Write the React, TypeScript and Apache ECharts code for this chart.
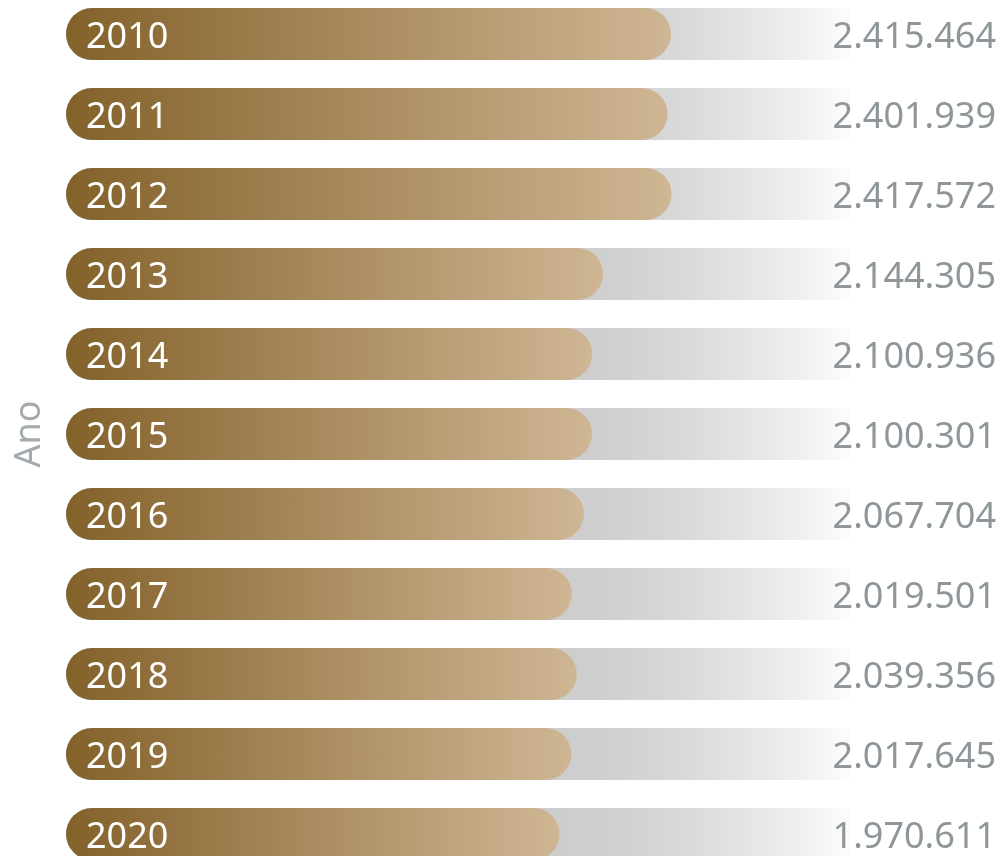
import React, { useEffect, useRef } from "react";
import * as echarts from "echarts";

const years = ["2010", "2011", "2012", "2013", "2014", "2015", "2016", "2017", "2018", "2019", "2020"];
const values = [2415464, 2401939, 2417572, 2144305, 2100936, 2100301, 2067704, 2019501, 2039356, 2017645, 1970611];
const axisName = "Ano";
const AXIS_MAX = 3130000;

function fmt(v: number): string {
  const s = String(Math.round(v));
  return s.replace(/\B(?=(\d{3})+(?!\d))/g, ".");
}

export default function App() {
  const ref = useRef<HTMLDivElement>(null);
  useEffect(() => {
    if (!ref.current) return;
    const chart = echarts.init(ref.current, undefined, { renderer: "svg" });
    const font = "'Noto Sans', 'Open Sans', sans-serif";
    chart.setOption({
      animation: false,
      textStyle: { fontFamily: font },
      grid: { left: 65, right: 157, top: 0, bottom: 0, containLabel: false },
      xAxis: {
        type: "value",
        min: 0,
        max: AXIS_MAX,
        show: false,
      },
      yAxis: {
        type: "category",
        data: years,
        inverse: true,
        name: axisName,
        nameLocation: "middle",
        nameRotate: 90,
        nameGap: 22,
        nameTextStyle: { color: "#a3aaae", fontSize: 36, fontFamily: font },
        axisLine: { show: false },
        axisTick: { show: false },
        axisLabel: { show: false },
      },
      series: [
        {
          type: "bar",
          name: "track",
          silent: true,
          data: values.map(() => AXIS_MAX),
          barWidth: 52,
          barGap: "-100%",
          itemStyle: {
            borderRadius: [26, 0, 0, 26],
            color: new echarts.graphic.LinearGradient(0, 0, 1, 0, [
              { offset: 0, color: "#c8c8c8" },
              { offset: 0.55, color: "#cbcbcb" },
              { offset: 0.69, color: "#cfcfcf" },
              { offset: 0.81, color: "#dcdcdc" },
              { offset: 0.91, color: "#ebebeb" },
              { offset: 1, color: "#fcfcfc" },
            ]),
          },
          label: {
            show: true,
            position: "insideRight",
            distance: 0,
            offset: [146, 0],
            formatter: (p: any) => fmt(values[p.dataIndex]),
            color: "#8e969a",
            fontSize: 36,
            fontFamily: font,
          },
        },
        {
          type: "bar",
          name: "value",
          data: values,
          barWidth: 52,
          barGap: "-100%",
          itemStyle: {
            borderRadius: 26,
            color: new echarts.graphic.LinearGradient(0, 0, 1, 0, [
              { offset: 0, color: "#83612a" },
              { offset: 1, color: "#cfb694" },
            ]),
          },
          label: {
            show: true,
            position: "insideLeft",
            distance: 20,
            formatter: (p: any) => years[p.dataIndex],
            color: "#ffffff",
            fontSize: 36,
            fontFamily: font,
          },
        },
      ],
    });
    return () => chart.dispose();
  }, []);
  return (
    <div
      ref={ref}
      style={{ position: "fixed", left: 0, top: -6, width: 1007, height: 880 }}
    />
  );
}
